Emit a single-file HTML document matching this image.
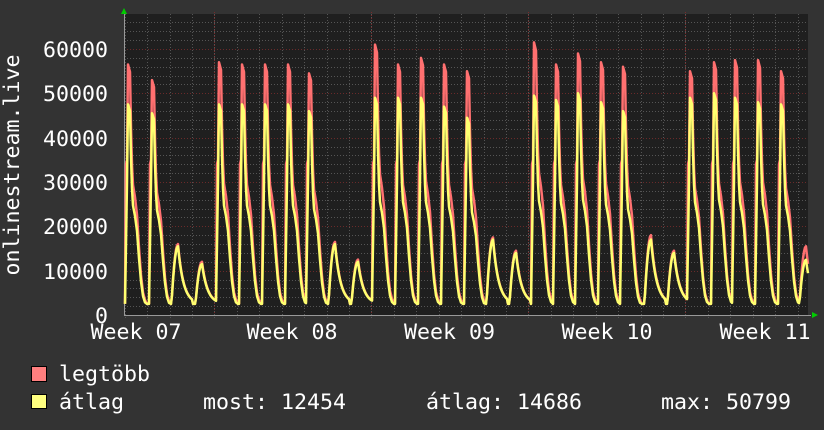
<!DOCTYPE html>
<html><head><meta charset="utf-8"><style>
html,body{margin:0;padding:0;background:#333;}
svg{display:block;}
text{font-family:"DejaVu Sans Mono","Liberation Mono",monospace;font-size:21.6px;fill:#fff;}
</style></head><body>
<svg id="s" width="824" height="430" xmlns="http://www.w3.org/2000/svg">
<rect width="824" height="430" fill="#333"/>
<rect x="124" y="14" width="684" height="301" fill="#1f1f1f"/>
<g id="grid"></g>
<g id="series"></g>
<polygon points="121,14 127,14 124,8" fill="#0c0"/>
<polygon points="812,312 812,318 818,315" fill="#0c0"/>
<g text-anchor="end">
<text x="108" y="57">60000</text>
<text x="108" y="101">50000</text>
<text x="108" y="146">40000</text>
<text x="108" y="190">30000</text>
<text x="108" y="234">20000</text>
<text x="108" y="279">10000</text>
<text x="108" y="323">0</text>
</g>
<text transform="translate(19,165) rotate(-90)" text-anchor="middle">onlinestream.live</text>
<g text-anchor="middle">
<text x="136" y="339">Week 07</text>
<text x="292" y="339">Week 08</text>
<text x="449.5" y="339">Week 09</text>
<text x="607" y="339">Week 10</text>
<text x="765" y="339">Week 11</text>
</g>
<rect x="31.5" y="366.5" width="15" height="15" fill="#ff7f7f" stroke="#000"/>
<rect x="31.5" y="394.5" width="15" height="14" fill="#ffff7f" stroke="#000"/>
<text x="59" y="381">legtöbb</text>
<text x="59" y="409">átlag</text>
<text x="203" y="409">most: 12454</text>
<text x="426" y="409">átlag: 14686</text>
<text x="661" y="409">max: 50799</text>
</svg>
<script>
var NS="http://www.w3.org/2000/svg";
var g=document.getElementById('grid'),se=document.getElementById('series');
function ln(x1,y1,x2,y2,c,d){var l=document.createElementNS(NS,'line');l.setAttribute('x1',x1);l.setAttribute('y1',y1);l.setAttribute('x2',x2);l.setAttribute('y2',y2);l.setAttribute('stroke',c);l.setAttribute('stroke-width',1);if(d)l.setAttribute('stroke-dasharray',d);g.appendChild(l);}
function Y(v){return 315-v*0.004433;}
for(var v=2000;v<=66000;v+=2000){var y=Math.round(Y(v))+0.5;if(y<14)break;if(v%10000==0)ln(124,y,808,y,'#6a2a2a','1,2');else ln(124,y,808,y,'#555','1,2');}
for(var i=0;i<31;i++){var x=Math.round(124.7+i*22.43)+0.5;ln(x,14,x,318,'#555','1,2');}
[214,371,528,685].forEach(function(x){ln(x+0.5,12,x+0.5,318,'#7a2a2a','1,2');});
ln(124,315.5,811,315.5,'#999');ln(124.5,12,124.5,315,'#999');
var pk=[[131,56500,47500],[155,53000,45500],[178,16000,15500,1],[202,12000,11500,1],[222,57000,47500],[245,56500,47500],[268,56500,47500],[291,56500,47500],[312,54500,46000],[335,16500,16000,1],[358,12500,12000,1],[378,61000,49000],[401,56500,49000],[424,58000,49000],[447,56500,47000],[470,55000,44500],[493,17500,17000,1],[516,14500,14000,1],[537,61500,49500],[559,56500,48500],[581,59000,50000],[604,57000,48000],[626,56000,46000],[651,18000,17000,1],[674,14500,14000,1],[693,55000,49000],[717,57000,50000],[738,57500,49000],[761,57500,48000],[784,55000,47500],[806,15500,12454,1]];
function val(x,idx){var v=2500;for(var k=0;k<pk.length;k++){var p=pk[k],d=x-p[0],P=p[idx],w;
if(p[3]){if(d>=-6&&d<=14){var r;if(d<0)r=1-Math.pow(d/6,2)*0.85;else r=Math.exp(-d/5.5);w=2500+(P-2500)*Math.max(r,0);v=Math.max(v,w);}}
else{if(d>=-6&&d<=16){var pts=[[-6,2500],[-5,(idx==1?34000:16000)],[-4,(idx==1?35000:30000)],[-3,P],[-1,P*0.97],[0,P*0.75],[1,P*0.6],[2,P*0.52],[4,P*0.47],[6,P*0.4],[8,P*0.27],[10,P*0.16],[12,P*0.09],[14,P*0.06],[16,2500]];
for(var j=0;j<pts.length-1;j++){if(d>=pts[j][0]&&d<=pts[j+1][0]){var t=(d-pts[j][0])/(pts[j+1][0]-pts[j][0]);w=pts[j][1]+t*(pts[j+1][1]-pts[j][1]);v=Math.max(v,w);break;}}}}}
return v;}
function path(idx,col,w){var d='';for(var x=125;x<=808;x++){d+=(x==125?'M':'L')+x+','+Y(val(x,idx)).toFixed(1);}var p=document.createElementNS(NS,'path');p.setAttribute('d',d);p.setAttribute('fill','none');p.setAttribute('stroke',col);p.setAttribute('stroke-width',w);p.setAttribute('stroke-linejoin','round');se.appendChild(p);}
path(1,'#ff7070',2.5);path(2,'#ffff70',2.5);
</script>
</body></html>
